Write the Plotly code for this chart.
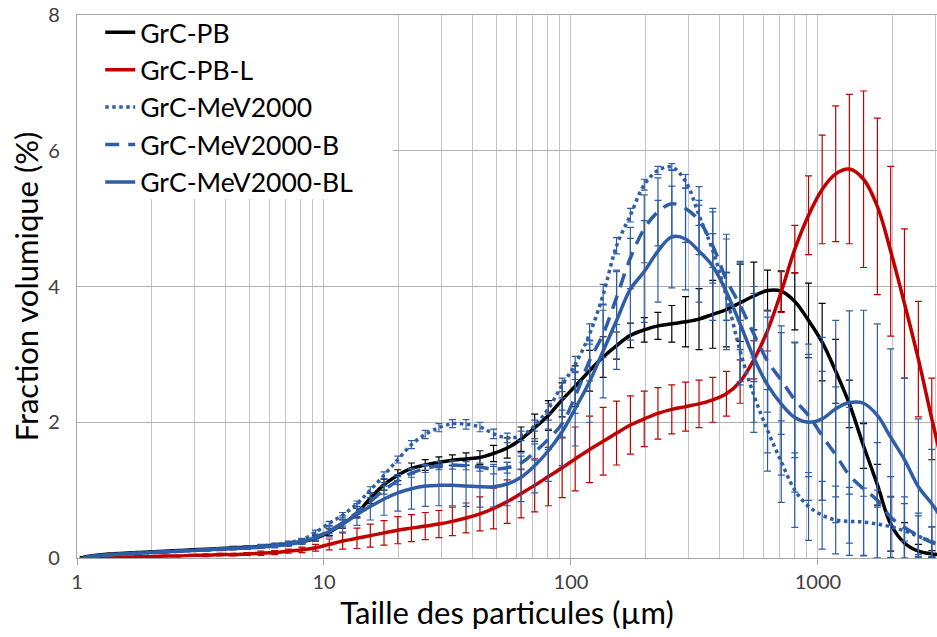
import plotly.graph_objects as go

# Particle size class midpoints (um)
SIZES = [1.06, 1.20, 1.36, 1.55, 1.76, 2.00, 2.27, 2.58, 2.93, 3.33, 3.78, 4.30, 4.88, 5.55, 6.31, 7.17, 8.14, 9.25,
         10.5, 11.9, 13.6, 15.4, 17.5, 19.9, 22.6, 25.7, 29.2, 33.1, 37.6, 42.8, 48.6, 55.2, 62.8, 71.3, 81.0, 92.1,
         104, 119, 135, 153, 174, 198, 225, 256, 291, 330, 375, 426, 484, 550, 625, 710, 806, 916,
         1040, 1180, 1340, 1530, 1740, 1970, 2240, 2550, 2890, 3280]

PB = [0.01, 0.04, 0.06, 0.07, 0.08, 0.09, 0.10, 0.11, 0.12, 0.13, 0.14, 0.15, 0.16, 0.17, 0.19, 0.21, 0.24, 0.29,
      0.38, 0.50, 0.66, 0.88, 1.08, 1.22, 1.32, 1.37, 1.41, 1.44, 1.46, 1.48, 1.54, 1.62, 1.75, 1.92, 2.10, 2.33,
      2.53, 2.76, 2.96, 3.13, 3.28, 3.36, 3.42, 3.45, 3.48, 3.52, 3.59, 3.66, 3.76, 3.86, 3.94, 3.93, 3.78, 3.50,
      3.18, 2.75, 2.27, 1.65, 1.08, 0.50, 0.22, 0.10, 0.06, 0.04]
PB_ERR = [0.01, 0.01, 0.01, 0.01, 0.01, 0.01, 0.01, 0.01, 0.01, 0.01, 0.01, 0.02, 0.02, 0.02, 0.02, 0.02, 0.03, 0.04,
          0.05, 0.06, 0.07, 0.08, 0.08, 0.08, 0.08, 0.08, 0.08, 0.08, 0.09, 0.10, 0.12, 0.15, 0.18, 0.20, 0.22, 0.25,
          0.30, 0.30, 0.30, 0.20, 0.18, 0.18, 0.20, 0.27, 0.37, 0.45, 0.50, 0.55, 0.57, 0.50, 0.30, 0.30, 0.42, 0.55,
          0.57, 0.47, 0.35, 0.33, 0.30, 0.40, 0.30, 0.10, 0.05, 0.03]

PB_L = [0.00, 0.00, 0.00, 0.01, 0.02, 0.02, 0.03, 0.03, 0.04, 0.04, 0.05, 0.05, 0.06, 0.07, 0.08, 0.10, 0.12, 0.15,
        0.20, 0.25, 0.29, 0.33, 0.37, 0.41, 0.44, 0.47, 0.50, 0.54, 0.59, 0.65, 0.73, 0.83, 0.95, 1.07, 1.20, 1.33,
        1.46, 1.60, 1.72, 1.84, 1.96, 2.05, 2.13, 2.19, 2.23, 2.27, 2.33, 2.42, 2.60, 2.92, 3.35, 3.92, 4.55, 5.05,
        5.43, 5.66, 5.73, 5.58, 5.18, 4.52, 3.75, 2.93, 2.05, 1.20]
PB_L_ERR = [0.00, 0.00, 0.00, 0.01, 0.01, 0.01, 0.01, 0.01, 0.01, 0.02, 0.02, 0.02, 0.02, 0.03, 0.03, 0.03, 0.04, 0.05,
            0.08, 0.12, 0.15, 0.17, 0.18, 0.20, 0.20, 0.20, 0.20, 0.21, 0.22, 0.25, 0.30, 0.32, 0.36, 0.39, 0.43, 0.44,
            0.47, 0.49, 0.50, 0.47, 0.43, 0.41, 0.38, 0.36, 0.36, 0.35, 0.33, 0.33, 0.32, 0.28, 0.30, 0.30, 0.35, 0.58,
            0.80, 1.00, 1.10, 1.30, 1.30, 1.25, 1.10, 0.85, 0.60, 0.40]

MEV = [0.00, 0.03, 0.05, 0.06, 0.07, 0.08, 0.09, 0.10, 0.11, 0.12, 0.13, 0.14, 0.16, 0.18, 0.20, 0.23, 0.27, 0.38,
       0.51, 0.63, 0.80, 1.00, 1.22, 1.45, 1.67, 1.82, 1.92, 1.98, 1.97, 1.93, 1.83, 1.77, 1.80, 1.95, 2.20, 2.55,
       2.85, 3.30, 3.88, 4.60, 5.05, 5.50, 5.71, 5.76, 5.55, 5.05, 4.53, 3.85, 3.05, 2.40, 1.88, 1.42, 1.00, 0.76,
       0.63, 0.56, 0.54, 0.53, 0.50, 0.46, 0.40, 0.32, 0.24, 0.18]
MEV_ERR = [0.00, 0.01, 0.01, 0.01, 0.01, 0.01, 0.01, 0.01, 0.01, 0.01, 0.01, 0.01, 0.01, 0.02, 0.02, 0.02, 0.02, 0.03,
           0.03, 0.04, 0.04, 0.05, 0.05, 0.05, 0.06, 0.06, 0.06, 0.06, 0.07, 0.07, 0.07, 0.07, 0.07, 0.08, 0.08, 0.10,
           0.12, 0.15, 0.15, 0.12, 0.10, 0.08, 0.06, 0.05, 0.10, 0.15, 0.25, 0.35, 0.45, 0.55, 0.60, 0.60, 0.55, 0.50,
           0.50, 0.50, 0.50, 0.50, 0.50, 0.45, 0.40, 0.30, 0.22, 0.16]

MEV_B = [0.00, 0.03, 0.05, 0.06, 0.07, 0.08, 0.09, 0.10, 0.11, 0.12, 0.13, 0.14, 0.15, 0.16, 0.18, 0.21, 0.25, 0.31,
         0.40, 0.52, 0.67, 0.83, 1.00, 1.14, 1.25, 1.32, 1.36, 1.37, 1.36, 1.34, 1.31, 1.33, 1.40, 1.56, 1.75, 1.98,
         2.38, 2.91, 3.30, 3.84, 4.42, 4.85, 5.10, 5.22, 5.15, 4.97, 4.60, 4.10, 3.72, 3.30, 2.90, 2.62, 2.33, 2.10,
         1.80, 1.52, 1.22, 1.02, 0.85, 0.60, 0.45, 0.33, 0.23, 0.17]
MEV_B_ERR = [0.00, 0.01, 0.01, 0.01, 0.01, 0.01, 0.01, 0.01, 0.01, 0.01, 0.01, 0.01, 0.02, 0.02, 0.02, 0.02, 0.03, 0.03,
             0.04, 0.05, 0.06, 0.06, 0.06, 0.06, 0.06, 0.06, 0.06, 0.06, 0.06, 0.06, 0.07, 0.08, 0.10, 0.12, 0.15, 0.20,
             0.25, 0.30, 0.35, 0.40, 0.45, 0.50, 0.50, 0.50, 0.50, 0.50, 0.55, 0.60, 0.65, 0.70, 0.75, 0.80, 0.85, 0.90,
             0.95, 1.00, 1.00, 0.98, 0.85, 0.60, 0.45, 0.33, 0.23, 0.17]

MEV_BL = [0.00, 0.03, 0.05, 0.06, 0.07, 0.08, 0.09, 0.10, 0.11, 0.12, 0.13, 0.14, 0.15, 0.16, 0.18, 0.20, 0.24, 0.30,
          0.39, 0.50, 0.64, 0.76, 0.87, 0.96, 1.02, 1.06, 1.07, 1.07, 1.06, 1.05, 1.05, 1.09, 1.19, 1.36, 1.58, 1.86,
          2.20, 2.60, 3.05, 3.50, 3.96, 4.22, 4.52, 4.73, 4.70, 4.52, 4.30, 3.92, 3.45, 2.95, 2.55, 2.27, 2.07, 2.00,
          2.05, 2.20, 2.29, 2.28, 2.10, 1.78, 1.45, 1.05, 0.80, 0.50]
MEV_BL_ERR = [0.00, 0.01, 0.01, 0.01, 0.01, 0.01, 0.01, 0.01, 0.01, 0.02, 0.02, 0.02, 0.02, 0.02, 0.03, 0.03, 0.04, 0.05,
              0.08, 0.12, 0.16, 0.20, 0.24, 0.27, 0.30, 0.30, 0.30, 0.30, 0.30, 0.30, 0.30, 0.32, 0.36, 0.40, 0.45, 0.50,
              0.55, 0.60, 0.69, 0.72, 0.75, 0.75, 0.75, 0.75, 0.75, 0.75, 0.80, 0.85, 0.90, 0.95, 1.00, 1.05, 1.10, 1.15,
              1.20, 1.30, 1.35, 1.37, 1.35, 1.30, 1.20, 1.00, 0.80, 0.60]

X_MAJOR = [1, 10, 100, 1000]
X_MINOR = [m * d for d in (1, 10, 100, 1000) for m in range(2, 10)]

FONT = 'Lato, "Open Sans", Arial, sans-serif'
BLUE = '#2F5DA6'
RED = '#C00000'
BLACK = '#000000'

SERIES = [
    ('GrC-PB', PB, PB_ERR, BLACK, 'solid'),
    ('GrC-PB-L', PB_L, PB_L_ERR, RED, 'solid'),
    ('GrC-MeV2000', MEV, MEV_ERR, BLUE, 'dot'),
    ('GrC-MeV2000-B', MEV_B, MEV_B_ERR, BLUE, '14px,9px'),
    ('GrC-MeV2000-BL', MEV_BL, MEV_BL_ERR, BLUE, 'solid'),
]

fig = go.Figure()
for name, vals, errs, color, dash in SERIES:
    fig.add_trace(go.Scatter(
        x=SIZES, y=vals, name=name, mode='lines',
        line=dict(color=color, width=3.5, dash=dash, shape='spline', smoothing=1.0),
        error_y=dict(type='data', array=errs, visible=True, color=color,
                     thickness=1.2, width=3.5),
    ))

# white block behind the legend hides the grid there
fig.add_shape(type='rect', xref='x', yref='y', x0=1, x1=19.0, y0=5.29, y1=8,
              fillcolor='white', line=dict(width=0), layer='between')

fig.update_layout(
    width=937, height=637,
    margin=dict(l=77, r=0, t=15, b=79),
    paper_bgcolor='white', plot_bgcolor='white',
    font=dict(family=FONT, color='#000000'),
    showlegend=True,
    legend=dict(x=0.027, y=1.012, xanchor='left', yanchor='top',
                bgcolor='rgba(0,0,0,0)', borderwidth=0,
                font=dict(size=26.5, family=FONT, color='#000000'),
                traceorder='normal'),
    xaxis=dict(
        type='log', range=[0, 3.482],
        tickvals=X_MAJOR, ticktext=[str(v) for v in X_MAJOR],
        ticks='outside', ticklen=6, tickcolor='#a6a6a6',
        tickfont=dict(size=20, color='#404040'),
        showgrid=True, gridcolor='#c4c4c4', gridwidth=1.3,
        minor=dict(tickvals=X_MINOR, showgrid=True, gridcolor='#c4c4c4', gridwidth=1.3, ticks=''),
        showline=True, linecolor='#a6a6a6', linewidth=1.3, mirror=True,
        zeroline=False,
        title=dict(text='Taille des particules (µm)', font=dict(size=31, color='#000000'), standoff=4),
    ),
    yaxis=dict(
        range=[0, 8], tickvals=[0, 2, 4, 6, 8],
        ticks='', ticklabelstandoff=12,
        tickfont=dict(size=20, color='#404040'),
        showgrid=True, gridcolor='#b0b0b0', gridwidth=1.3,
        showline=True, linecolor='#a6a6a6', linewidth=1.3, mirror=True,
        zeroline=False,
        title=dict(text='Fraction volumique (%)', font=dict(size=31, color='#000000'), standoff=0),
    ),
)

# drop the default 8px page margin so the chart sits at the window's top-left corner
fig.write_html("out.html", config={'displayModeBar': False},
               post_script="document.body.style.margin='0';document.body.style.overflow='hidden';")
